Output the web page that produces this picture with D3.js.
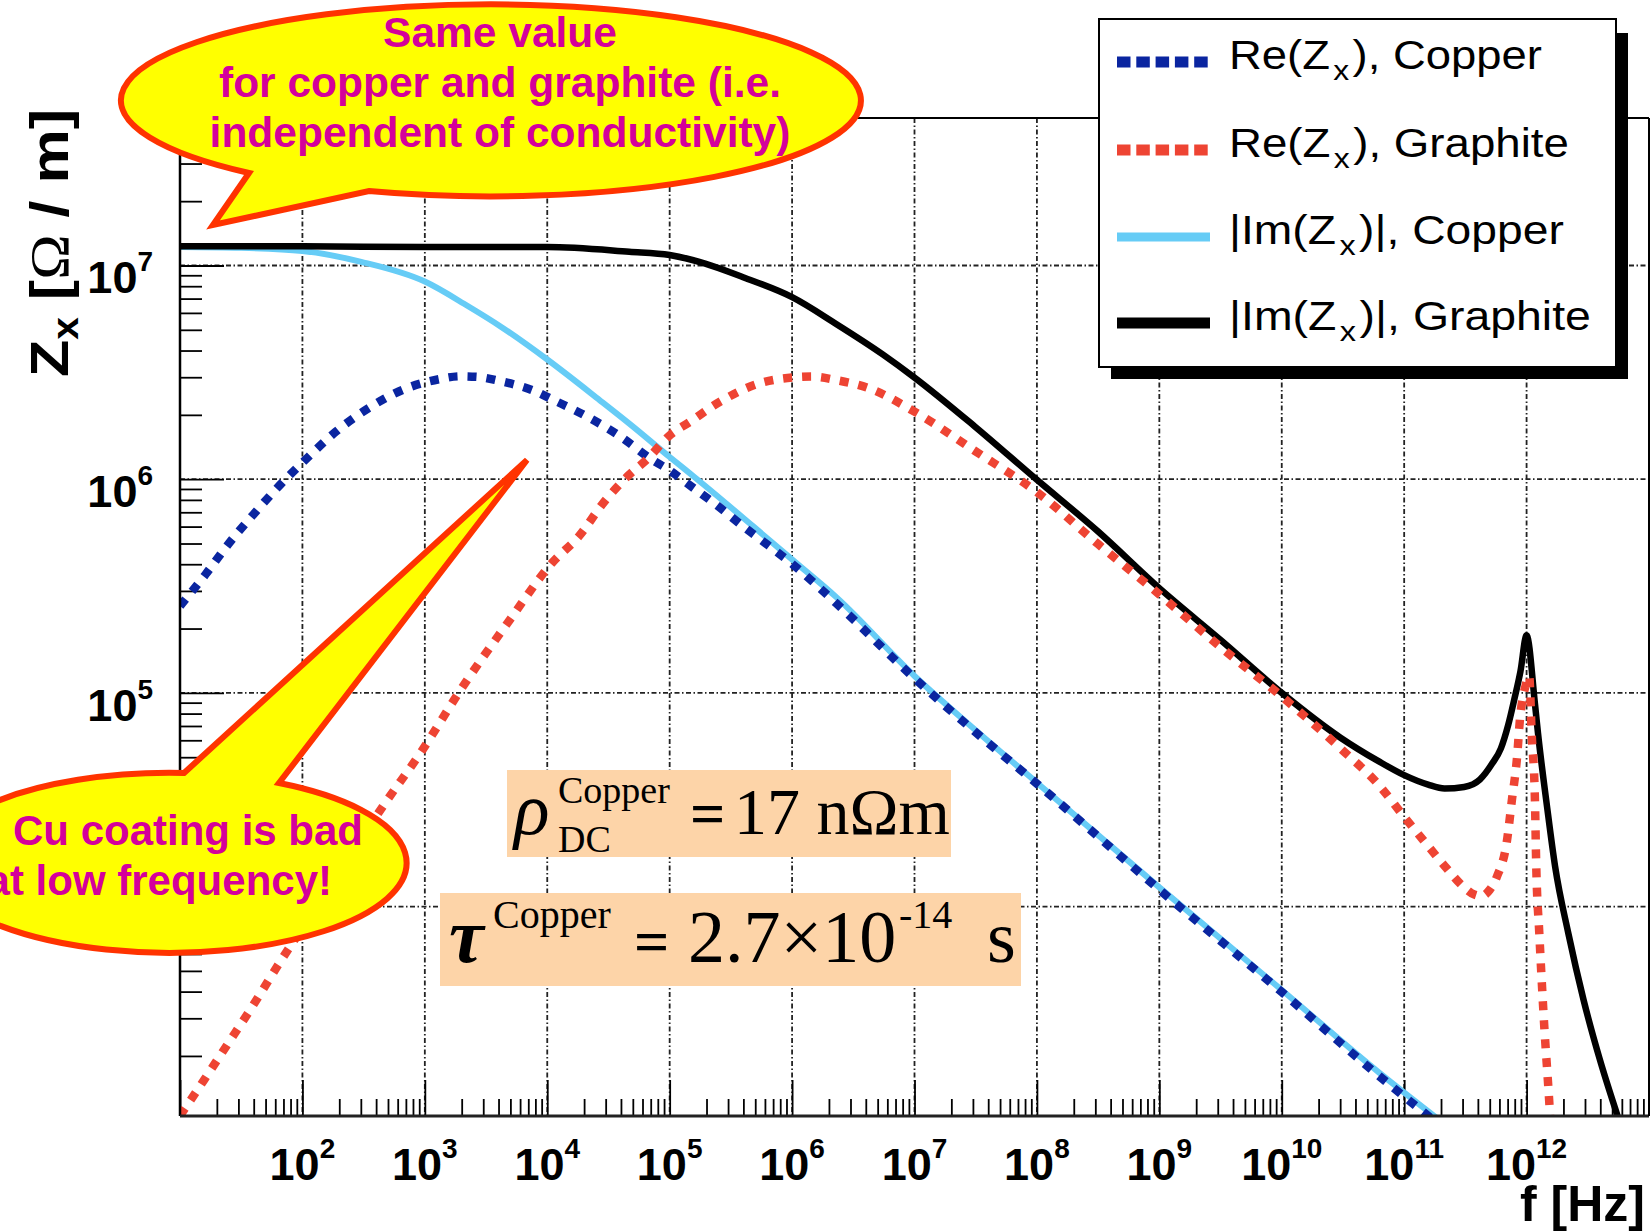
<!DOCTYPE html>
<html><head><meta charset="utf-8">
<script src="https://cdn.jsdelivr.net/npm/d3@7/dist/d3.min.js"></script>
<style>body{margin:0;background:#fff;} svg{display:block;}</style>
</head><body>
<script>
// ---------------- data ----------------
const reCopperF = [10, 16.2, 25.1, 39.8, 66.1, 110, 188, 347, 661, 1320, 1950, 2690, 3980, 7940, 1.10e4, 2.09e4, 3.98e4, 7.08e4, 1.02e5, 1.32e5, 2.40e5, 4.17e5, 5.75e5, 1.02e6, 2.29e6, 1e7, 3.09e7, 1e8, 1e9, 1e10, 6.17e10, 1.74e11];
const reCopperZ = [2.55e5, 3.59e5, 5.01e5, 6.84e5, 9.44e5, 1.26e6, 1.67e6, 2.15e6, 2.62e6, 2.94e6, 3.03e6, 3.01e6, 2.89e6, 2.58e6, 2.36e6, 1.97e6, 1.58e6, 1.24e6, 1.09e6, 9.77e5, 7.59e5, 5.89e5, 5.13e5, 3.98e5, 2.63e5, 1.17e5, 6.61e4, 3.76e4, 1.20e4, 3.98e3, 1.62e3, 1.0e3];

const reGraphiteF = [10, 15.8, 24.5, 38.9, 63.1, 200, 468, 912, 2040, 4790, 1.10e4, 1.82e4, 2.88e4, 4.68e4, 6.46e4, 1.02e5, 1.41e5, 2.63e5, 5.01e5, 1e6, 1.45e6, 2.29e6, 4.27e6, 1e7, 3.09e7, 1e8, 3.16e8, 1e9, 3.24e9, 1e10, 3.02e10, 6.17e10, 1e11, 1.48e11, 2.14e11, 3.09e11, 3.72e11, 4.27e11, 5.01e11, 5.72e11, 6.92e11, 7.59e11, 8.32e11, 8.87e11, 9.77e11, 1.05e12, 1.10e12, 1.17e12, 1.20e12, 1.27e12, 1.38e12, 1.54e12, 1.58e12];
const reGraphiteZ = [1.05e3, 1.55e3, 2.27e3, 3.40e3, 5.31e3, 1.44e4, 3.02e4, 5.19e4, 1.07e5, 2.14e5, 4.07e5, 5.42e5, 7.76e5, 1.05e6, 1.23e6, 1.62e6, 1.83e6, 2.32e6, 2.77e6, 2.99e6, 3.02e6, 2.91e6, 2.66e6, 2.07e6, 1.36e6, 8.69e5, 4.97e5, 2.89e5, 1.62e5, 9.62e4, 5.50e4, 3.72e4, 2.63e4, 2.00e4, 1.55e4, 1.23e4, 1.14e4, 1.12e4, 1.20e4, 1.38e4, 2.04e4, 3.16e4, 4.85e4, 7.76e4, 1.07e5, 1.20e5, 6.46e4, 3.16e4, 1.53e4, 7.52e3, 3.05e3, 1.16e3, 9.0e2];

const imCopperF = [10, 31.6, 100, 302, 1000, 2240, 4270, 1e4, 2.69e4, 4.68e4, 1e5, 1.89e5, 4.79e5, 1.02e6, 2.32e6, 1e7, 3.09e7, 1e8, 1e9, 1e10, 6.17e10, 1.95e11];
const imCopperZ = [1.22e7, 1.21e7, 1.17e7, 1.04e7, 8.41e6, 6.46e6, 5.13e6, 3.63e6, 2.34e6, 1.82e6, 1.27e6, 9.44e5, 6.03e5, 4.17e5, 2.79e5, 1.20e5, 6.76e4, 3.80e4, 1.23e4, 4.07e3, 1.68e3, 1.0e3];

const imGraphiteF = [10, 100, 1e3, 1e4, 4.68e4, 1e5, 1.95e5, 3.98e5, 1e6, 2.29e6, 5.50e6, 1e7, 3.09e7, 1e8, 3.16e8, 1e9, 3.24e9, 1e10, 3.02e10, 6.17e10, 1e11, 1.57e11, 2.14e11, 3.09e11, 4.17e11, 5.25e11, 6.17e11, 7.08e11, 7.94e11, 8.91e11, 1e12, 1.17e12, 1.24e12, 1.47e12, 1.71e12, 2.19e12, 2.92e12, 3.98e12, 5.47e12, 5.75e12];
const imGraphiteZ = [1.23e7, 1.23e7, 1.22e7, 1.22e7, 1.16e7, 1.12e7, 1.02e7, 8.81e6, 7.11e6, 5.33e6, 3.84e6, 2.99e6, 1.77e6, 9.93e5, 5.69e5, 3.09e5, 1.75e5, 1.0e5, 6.17e4, 4.79e4, 4.12e4, 3.72e4, 3.57e4, 3.63e4, 3.94e4, 4.68e4, 5.50e4, 7.08e4, 9.33e4, 1.26e5, 1.86e5, 8.91e4, 6.46e4, 2.93e4, 1.54e4, 7.52e3, 3.66e3, 1.91e3, 1.07e3, 9.8e2];

const xDomain = [1e1, 1e13];
const yDomain = [1.047e3, 4.9e7];
const xLabelExps = [2, 3, 4, 5, 6, 7, 8, 9, 10, 11, 12];
const yLabelExps = [5, 6, 7];
const legendLabels = [["Re(Z", "x", "), Copper"], ["Re(Z", "x", "), Graphite"], ["|Im(Z", "x", ")|, Copper"], ["|Im(Z", "x", ")|, Graphite"]];
const callout1Lines = ["Same value", "for copper and graphite (i.e.", "independent of conductivity)"];
const callout2Lines = ["Cu coating is bad", "at low frequency!"];

// ---------------- drawing ----------------
const W = 1650, H = 1232;
const L = 180, R = 1649, T = 118, B = 1116;
const svg = d3.select("body").append("svg").attr("width", W).attr("height", H);
svg.append("rect").attr("width", W).attr("height", H).attr("fill", "#fff");

const x = d3.scaleLog().domain(xDomain).range([L, R]);
const y = d3.scaleLog().domain(yDomain).range([B, T]);

const SANS = "'Liberation Sans', Arial, Helvetica, sans-serif";
const SERIF = "'Liberation Serif', 'Times New Roman', serif";

function fitW(sel, target, ax) {
  const bb = sel.node().getBBox();
  const k = target / bb.width;
  sel.attr("transform", `translate(${ax},0) scale(${k},1) translate(${-ax},0)`);
}
const isPow = v => Math.abs(Math.log10(v) - Math.round(Math.log10(v))) < 1e-9;

// grid
const gridStyle = g => g.attr("stroke", "#222").attr("stroke-width", 1.8).attr("stroke-dasharray", "5,2.5,1.5,2.5").attr("fill", "none");
const allX = x.ticks(20), allY = y.ticks(20);
const majorX = allX.filter(isPow), minorX = allX.filter(v => !isPow(v));
const majorY = allY.filter(isPow), minorY = allY.filter(v => !isPow(v));

svg.append("g").call(gridStyle).selectAll("line").data(majorX.filter(v => x(v) > L + 1 && x(v) < R - 1)).join("line")
  .attr("x1", d => x(d)).attr("x2", d => x(d)).attr("y1", T).attr("y2", B);
svg.append("g").call(gridStyle).selectAll("line").data(majorY).join("line")
  .attr("y1", d => y(d)).attr("y2", d => y(d)).attr("x1", L).attr("x2", R);

// axes ticks
const xMajAx = svg.append("g").attr("transform", `translate(0,${B})`)
  .call(d3.axisBottom(x).tickValues(majorX).tickSizeInner(-36).tickSizeOuter(0).tickFormat(""));
const xMinAx = svg.append("g").attr("transform", `translate(0,${B})`)
  .call(d3.axisBottom(x).tickValues(minorX).tickSizeInner(-17).tickSizeOuter(0).tickFormat(""));
const yMajAx = svg.append("g").attr("transform", `translate(${L},0)`)
  .call(d3.axisLeft(y).tickValues(majorY).tickSizeInner(-44).tickSizeOuter(0).tickFormat(""));
const yMinAx = svg.append("g").attr("transform", `translate(${L},0)`)
  .call(d3.axisLeft(y).tickValues(minorY).tickSizeInner(-22).tickSizeOuter(0).tickFormat(""));
[xMajAx, xMinAx, yMajAx, yMinAx].forEach(g => {
  g.select(".domain").remove();
  g.selectAll(".tick line").attr("stroke", "#000").attr("stroke-width", 1.8);
});

// curves
svg.append("clipPath").attr("id", "clip").append("rect").attr("x", L).attr("y", T).attr("width", R - L).attr("height", B - T);
const line = d3.line().x(d => x(d[0])).y(d => y(d[1])).curve(d3.curveMonotoneX);
const zip = (a, b) => a.map((v, i) => [v, b[i]]);
const series = [
  { f: imCopperF, z: imCopperZ, color: "#66ccf6", width: 6, dash: null },
  { f: imGraphiteF, z: imGraphiteZ, color: "#000000", width: 6.5, dash: null },
  { f: reCopperF, z: reCopperZ, color: "#0a25a0", width: 8.5, dash: "9,10" },
  { f: reGraphiteF, z: reGraphiteZ, color: "#ee4433", width: 8.5, dash: "9,10" }
];
const cg = svg.append("g").attr("clip-path", "url(#clip)");
series.forEach(s => {
  cg.append("path").attr("d", line(zip(s.f, s.z))).attr("fill", "none")
    .attr("stroke", s.color).attr("stroke-width", s.width)
    .attr("stroke-dasharray", s.dash).attr("stroke-linejoin", "round");
});

// frame
svg.append("line").attr("x1", L).attr("x2", L).attr("y1", T).attr("y2", B).attr("stroke", "#000").attr("stroke-width", 2.5);
svg.append("line").attr("x1", L).attr("x2", R).attr("y1", B).attr("y2", B).attr("stroke", "#222").attr("stroke-width", 3);
svg.append("line").attr("x1", L).attr("x2", R).attr("y1", T).attr("y2", T).attr("stroke", "#000").attr("stroke-width", 2);
svg.append("line").attr("x1", R).attr("x2", R).attr("y1", T).attr("y2", B).attr("stroke", "#000").attr("stroke-width", 2);

// tick labels
xLabelExps.forEach(e => {
  const t = svg.append("text").attr("x", x(Math.pow(10, e))).attr("y", 1180).attr("text-anchor", "middle")
    .attr("font-family", SANS).attr("font-weight", "bold").attr("font-size", 45);
  t.append("tspan").text("10");
  t.append("tspan").attr("font-size", 28).attr("dy", -22).text(e);
});
yLabelExps.forEach(e => {
  const t = svg.append("text").attr("x", 153).attr("y", y(Math.pow(10, e)) + 28).attr("text-anchor", "end")
    .attr("font-family", SANS).attr("font-weight", "bold").attr("font-size", 45);
  t.append("tspan").text("10");
  t.append("tspan").attr("font-size", 28).attr("dy", -22).text(e);
});

// axis titles
svg.append("text").attr("x", 1645).attr("y", 1221).attr("text-anchor", "end")
  .attr("font-family", SANS).attr("font-weight", "bold").attr("font-size", 50).text("f [Hz]");
const yt = svg.append("g").attr("transform", "translate(68,243) rotate(-90)");
const ytt = yt.append("text").attr("x", 0).attr("y", 0).attr("text-anchor", "middle")
  .attr("font-family", SANS).attr("font-weight", "bold").attr("font-size", 54);
ytt.append("tspan").text("Z");
ytt.append("tspan").attr("font-size", 36).attr("dy", 10).text("x");
ytt.append("tspan").attr("dy", -10).text(" [");
ytt.append("tspan").attr("font-family", SERIF).attr("font-weight", "normal").text("Ω");
ytt.append("tspan").text(" / m]");
fitW(ytt, 268, 0);

// peach boxes
const peach = "#fdd4a8";
svg.append("rect").attr("x", 507).attr("y", 770).attr("width", 444).attr("height", 87).attr("fill", peach);
svg.append("rect").attr("x", 440).attr("y", 893).attr("width", 581).attr("height", 93).attr("fill", peach);
const st = (xx, yy, size, txt, opts = {}) => svg.append("text").attr("x", xx).attr("y", yy)
  .attr("font-family", SERIF).attr("font-size", size).attr("font-style", opts.italic ? "italic" : "normal")
  .attr("font-weight", opts.bold ? "bold" : "normal").attr("fill", "#000").text(txt);
st(514, 834, 74, "ρ", { italic: true });
st(558, 803, 38, "Copper");
st(558, 852, 38, "DC");
st(690, 834, 62, "=", { bold: true });
st(734, 834, 66, "17 nΩm");
st(449, 962, 78, "τ", { italic: true, bold: true });
st(493, 928, 40, "Copper");
st(634, 962, 62, "=", { bold: true });
st(688, 962, 74, "2.7×10");
st(899, 928, 40, "-14");
st(987, 962, 74, "s");

// callouts
const YEL = "#ffff00", RED = "#ff3300", MAG = "#d4009b";
svg.append("path")
  .attr("d", "M249,173 L213,225 L369,191 A370,96 0 1 0 249,173 Z")
  .attr("fill", YEL).attr("stroke", RED).attr("stroke-width", 6).attr("stroke-linejoin", "miter");
callout1Lines.forEach((s, i) => {
  svg.append("text").attr("x", 500).attr("y", 47 + i * 50).attr("text-anchor", "middle")
    .attr("font-family", SANS).attr("font-weight", "bold").attr("font-size", 42.5).attr("fill", MAG).text(s);
});
svg.append("path")
  .attr("d", "M184,773 L527,460 L279,783 A237,90 0 1 1 184,773 Z")
  .attr("fill", YEL).attr("stroke", RED).attr("stroke-width", 6).attr("stroke-linejoin", "miter");
svg.append("text").attr("x", 13).attr("y", 845).attr("text-anchor", "start")
  .attr("font-family", SANS).attr("font-weight", "bold").attr("font-size", 42).attr("fill", MAG).text(callout2Lines[0]);
svg.append("text").attr("x", 332).attr("y", 895).attr("text-anchor", "end")
  .attr("font-family", SANS).attr("font-weight", "bold").attr("font-size", 42).attr("fill", MAG).text(callout2Lines[1]);

// legend
svg.append("rect").attr("x", 1111).attr("y", 33).attr("width", 517).attr("height", 346).attr("fill", "#000");
svg.append("rect").attr("x", 1099).attr("y", 19).attr("width", 517).attr("height", 348).attr("fill", "#fff").attr("stroke", "#000").attr("stroke-width", 2);
const legendRows = [62, 150, 237, 323];
const legendWidths = [313, 340, 335, 362];
const legendStyles = [
  { color: "#0a25a0", width: 11, dash: "13.5,5.8" },
  { color: "#ee4433", width: 11, dash: "13.5,5.8" },
  { color: "#66ccf6", width: 9, dash: null },
  { color: "#000000", width: 11, dash: null }
];
legendLabels.forEach((lab, i) => {
  const cy = legendRows[i];
  svg.append("line").attr("x1", 1117).attr("x2", 1210).attr("y1", cy).attr("y2", cy)
    .attr("stroke", legendStyles[i].color).attr("stroke-width", legendStyles[i].width)
    .attr("stroke-dasharray", legendStyles[i].dash);
  const t = svg.append("text").attr("x", 1229).attr("y", cy + 7).attr("font-family", SANS)
    .attr("font-size", 40).attr("fill", "#000");
  t.append("tspan").text(lab[0]);
  t.append("tspan").attr("font-size", 28).attr("dy", 11).attr("dx", 3).text(lab[1]);
  t.append("tspan").attr("dy", -11).attr("dx", 3).text(lab[2]);
  fitW(t, legendWidths[i], 1229);
});
</script>
</body></html>
